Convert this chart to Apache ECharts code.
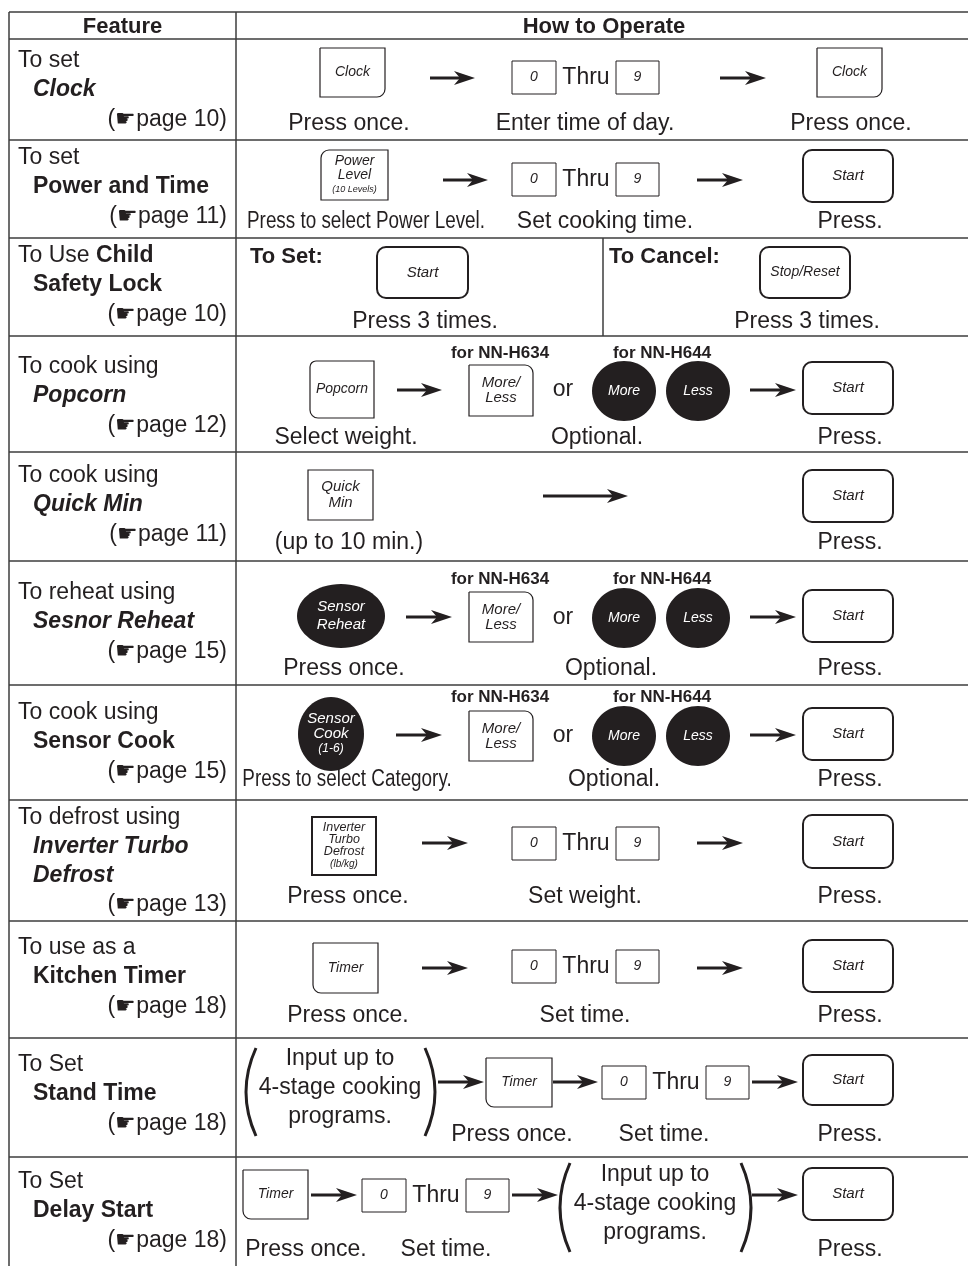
<!DOCTYPE html>
<html><head><meta charset="utf-8">
<script src="https://cdn.jsdelivr.net/npm/echarts@6/dist/echarts.min.js"></script>
<style>html,body{margin:0;padding:0;background:#fff}#c{width:968px;height:1266px}</style>
</head><body><div id="c"></div>
<script>
// ---------------- content ----------------
const headers = ['Feature', 'How to Operate'];
const featureText = [
  ['To set', '{bi|Clock}'],
  ['To set', '{b|Power and Time}'],
  ['To Use {b|Child}', '{b|Safety Lock}'],
  ['To cook using', '{bi|Popcorn}'],
  ['To cook using', '{bi|Quick Min}'],
  ['To reheat using', '{bi|Sesnor Reheat}'],
  ['To cook using', '{b|Sensor Cook}'],
  ['To defrost using', '{bi|Inverter Turbo}', '{bi|Defrost}'],
  ['To use as a', '{b|Kitchen Timer}'],
  ['To Set', '{b|Stand Time}'],
  ['To Set', '{b|Delay Start}']
];
const pageRefs = [10, 11, 10, 12, 11, 15, 15, 13, 18, 18, 18];
const buttonLabels = [
  ['Clock', 'Clock'],
  ['Power\nLevel\n(10 Levels)', 'Start'],
  ['Start', 'Stop/Reset'],
  ['Popcorn', 'More/\nLess', 'More', 'Less', 'Start'],
  ['Quick\nMin', 'Start'],
  ['Sensor\nReheat', 'More/\nLess', 'More', 'Less', 'Start'],
  ['Sensor\nCook\n(1-6)', 'More/\nLess', 'More', 'Less', 'Start'],
  ['Inverter\nTurbo\nDefrost\n(lb/kg)', 'Start'],
  ['Timer', 'Start'],
  ['Timer', 'Start'],
  ['Timer', 'Start']
];
const captions = [
  ['Press once.', 'Enter time of day.', 'Press once.'],
  ['Press to select Power Level.', 'Set cooking time.', 'Press.'],
  ['Press 3 times.', 'Press 3 times.'],
  ['Select weight.', 'Optional.', 'Press.'],
  ['(up to 10 min.)', 'Press.'],
  ['Press once.', 'Optional.', 'Press.'],
  ['Press to select Category.', 'Optional.', 'Press.'],
  ['Press once.', 'Set weight.', 'Press.'],
  ['Press once.', 'Set time.', 'Press.'],
  ['Press once.', 'Set time.', 'Press.'],
  ['Press once.', 'Set time.', 'Press.']
];
const numberKeys = ['0', '9'];
const thruLabel = 'Thru';
const modelLabels = ['for NN-H634', 'for NN-H644'];
const orLabel = 'or';
const lockLabels = ['To Set:', 'To Cancel:'];
const programNote = ['Input up to', '4-stage cooking', 'programs.'];

// ---------------- layout (drawing only) ----------------
const FAMILY = '"Liberation Sans", Arial, Helvetica, sans-serif';
const INK = '#231f20';
const RULE = '#3c3c3c';
const colX = [9, 236];
const rowY = [12, 39, 140, 238, 336, 452, 561, 685, 800, 921, 1038, 1157, 1266];
const featY = [61, 158, 256, 367, 476, 593, 713, 818, 948, 1065, 1182];

const B = (b, box, r, lw, fs, lh, sm) => ({k: 'btn', b, box, r, lw, fs: fs || 14, lh: lh || 15, sm: sm || 10});
const E = (b, cx, cy, rx, ry, fs, lh, sm) => ({k: 'ell', b, cx, cy, rx, ry, fs: fs || 14, lh: lh || 16, sm: sm || 12});
const A = (x0, x1, y) => ({k: 'arrow', x0, x1, y});
const K = (x, y0, y1) => ({k: 'keys', x, y0, y1});
const T = (c, x, y, narrow) => ({k: 'cap', c, x, y, narrow});
const M = (y) => ({k: 'models', y});
const O = (x, y) => ({k: 'or', x, y});
const P = (xl, xr, y0, y1) => ({k: 'paren', xl, xr, y0, y1});
const N = (x, y) => ({k: 'note', x, y});
const L = (i, x, y) => ({k: 'lock', i, x, y});
const V = (x, y0, y1) => ({k: 'vline', x, y0, y1});
const SQ = 0, RS = 9;

const diagrams = [
  [B(0, [320, 48, 385, 97], [0, 0, 8, 0], 1.2), A(430, 475, 78), K(512, 61, 94), A(720, 766, 78),
   B(1, [817, 48, 882, 97], [0, 0, 8, 0], 1.2), T(0, 349, 124), T(1, 585, 124), T(2, 851, 124)],
  [B(0, [321, 150, 388, 200], [8, 0, 0, 0], 1.2, 14, 14, 9), A(443, 488, 180), K(512, 163, 196), A(697, 743, 180),
   B(1, [803, 150, 893, 202], RS, 2, 15), T(0, 366, 222, true), T(1, 605, 222), T(2, 850, 222)],
  [L(0, 250, 257), B(0, [377, 247, 468, 298], RS, 2, 15), L(1, 609, 257), B(1, [760, 247, 850, 298], RS, 2, 14),
   V(603, 238, 336), T(0, 425, 322), T(1, 807, 322)],
  [M(353), B(0, [310, 361, 374, 418], [6, 0, 0, 8], 1.2), A(397, 442, 390), B(1, [469, 365, 533, 416], [0, 8, 0, 0], 1.2, 15, 15),
   O(563, 390), E(2, 624, 391, 32, 30), E(3, 698, 391, 32, 30), A(750, 796, 390), B(4, [803, 362, 893, 414], RS, 2, 15),
   T(0, 346, 438), T(1, 597, 438), T(2, 850, 438)],
  [B(0, [308, 470, 373, 520], SQ, 1.2, 15, 16), A(543, 628, 496), B(1, [803, 470, 893, 522], RS, 2, 15),
   T(0, 349, 543), T(1, 850, 543)],
  [M(579), E(0, 341, 616, 44, 32, 15, 18), A(406, 452, 617), B(1, [469, 592, 533, 642], [0, 8, 0, 0], 1.2, 15, 15),
   O(563, 618), E(2, 624, 618, 32, 30), E(3, 698, 618, 32, 30), A(750, 796, 617), B(4, [803, 590, 893, 642], RS, 2, 15),
   T(0, 344, 669), T(1, 611, 669), T(2, 850, 669)],
  [M(697), E(0, 331, 734, 33, 37, 15, 15, 12), A(396, 442, 735), B(1, [469, 711, 533, 761], [0, 8, 0, 0], 1.2, 15, 15),
   O(563, 736), E(2, 624, 736, 32, 30), E(3, 698, 736, 32, 30), A(750, 796, 735), B(4, [803, 708, 893, 760], RS, 2, 15),
   T(0, 347, 780, true), T(1, 614, 780), T(2, 850, 780)],
  [B(0, [312, 817, 376, 875], SQ, 2, 12.5, 12, 10), A(422, 468, 843), K(512, 827, 860), A(697, 743, 843),
   B(1, [803, 815, 893, 868], RS, 2, 15), T(0, 348, 897), T(1, 585, 897), T(2, 850, 897)],
  [B(0, [313, 943, 378, 993], [0, 0, 0, 8], 1.2), A(422, 468, 968), K(512, 950, 983), A(697, 743, 968),
   B(1, [803, 940, 893, 992], RS, 2, 15), T(0, 348, 1016), T(1, 585, 1016), T(2, 850, 1016)],
  [P(256, 425, 1048, 1136), N(340, 1059), A(438, 484, 1082), B(0, [486, 1058, 552, 1107], [0, 0, 0, 8], 1.2),
   A(553, 598, 1082), K(602, 1066, 1099), A(752, 798, 1082), B(1, [803, 1055, 893, 1105], RS, 2, 15),
   T(0, 512, 1135), T(1, 664, 1135), T(2, 850, 1135)],
  [B(0, [243, 1170, 308, 1219], [0, 0, 0, 8], 1.2), A(311, 357, 1195), K(362, 1179, 1212), A(512, 558, 1195),
   P(570, 741, 1163, 1252), N(655, 1175), A(752, 798, 1195), B(1, [803, 1168, 893, 1220], RS, 2, 15),
   T(0, 306, 1250), T(1, 446, 1250), T(2, 850, 1250)]
];

function font(size, bold, italic) {
  return (italic ? 'italic ' : '') + (bold ? 'bold ' : '') + size + 'px ' + FAMILY;
}
const RICH = {
  b: {font: font(23, true, false), fontWeight: 'bold', fontSize: 23, fontFamily: FAMILY, fill: INK},
  bi: {font: font(23, true, true), fontWeight: 'bold', fontStyle: 'italic', fontSize: 23, fontFamily: FAMILY, fill: INK}
};

function renderItem(params, api) {
  const i = params.dataIndex;
  const C = (x, y) => api.coord([x, y]);
  const ch = [];
  function txt(s, x, y, o) {
    o = o || {};
    const p = C(x, y);
    const al = o.align || 'center';
    const st = {text: s, x: 0, y: 0, font: font(o.size || 23, o.bold, o.italic), fill: o.fill || INK,
      align: al, verticalAlign: 'middle', textAlign: al, textVerticalAlign: 'middle'};
    if (o.rich) st.rich = o.rich;
    return {type: 'text', x: p[0], y: p[1], scaleX: o.sx || 1, style: st, silent: true};
  }
  function line(x0, y0, x1, y1, lw, color) {
    const a = C(x0, y0), b = C(x1, y1);
    return {type: 'line', shape: {x1: a[0], y1: a[1], x2: b[0], y2: b[1]}, style: {stroke: color || RULE, lineWidth: lw || 1.5}};
  }
  function rect(x0, y0, x1, y1, r, lw) {
    const a = C(x0, y0), b = C(x1, y1);
    return {type: 'rect', shape: {x: a[0], y: a[1], width: b[0] - a[0], height: b[1] - a[1], r: r},
      style: {fill: '#fff', stroke: INK, lineWidth: lw}};
  }
  function labelLines(label, cx, cy, fs, lh, sm, color) {
    const lines = label.split('\n');
    const n = lines.length;
    lines.forEach((ln, k) => {
      ch.push(txt(ln, cx, cy + (k - (n - 1) / 2) * lh, {size: ln.charAt(0) === '(' ? sm : fs, italic: true, fill: color}));
    });
  }

  if (i === featureText.length) {
    for (let r = 0; r < rowY.length - 1; r++) ch.push(line(colX[0], rowY[r], 968, rowY[r], 1.5));
    colX.forEach(x => ch.push(line(x, rowY[0], x, rowY[rowY.length - 1], 1.5)));
    ch.push(txt(headers[0], (colX[0] + colX[1]) / 2, (rowY[0] + rowY[1]) / 2 + 1, {size: 22, bold: true}));
    ch.push(txt(headers[1], 604, (rowY[0] + rowY[1]) / 2 + 1, {size: 22, bold: true}));
    return {type: 'group', children: ch};
  }

  const lines = featureText[i];
  lines.forEach((s, k) => {
    ch.push(txt(s, k === 0 ? 18 : 33, featY[i] + k * 28.6, {align: 'left', rich: RICH}));
  });
  ch.push(txt('(\u261Bpage ' + pageRefs[i] + ')', 227, featY[i] + lines.length * 28.6 + 1, {align: 'right'}));

  const labels = buttonLabels[i];
  diagrams[i].forEach(it => {
    switch (it.k) {
      case 'btn': {
        const [x0, y0, x1, y1] = it.box;
        ch.push(rect(x0, y0, x1, y1, it.r, it.lw));
        labelLines(labels[it.b], (x0 + x1) / 2, (y0 + y1) / 2, it.fs, it.lh, it.sm, INK);
        break;
      }
      case 'ell': {
        const c = C(it.cx, it.cy);
        ch.push({type: 'ellipse', shape: {cx: c[0], cy: c[1], rx: it.rx, ry: it.ry}, style: {fill: INK}});
        labelLines(labels[it.b], it.cx, it.cy, it.fs, it.lh, it.sm, '#fff');
        break;
      }
      case 'arrow': {
        ch.push(line(it.x0, it.y, it.x1 - 12, it.y, 3, INK));
        const pts = [[it.x1, it.y], [it.x1 - 21, it.y - 7], [it.x1 - 15, it.y], [it.x1 - 21, it.y + 7]].map(q => C(q[0], q[1]));
        ch.push({type: 'polygon', shape: {points: pts}, style: {fill: INK}});
        break;
      }
      case 'keys': {
        ch.push(rect(it.x, it.y0, it.x + 44, it.y1, 0, 1));
        ch.push(txt(numberKeys[0], it.x + 22, (it.y0 + it.y1) / 2, {size: 14, italic: true}));
        ch.push(txt(thruLabel, it.x + 74, (it.y0 + it.y1) / 2, {size: 23}));
        ch.push(rect(it.x + 104, it.y0, it.x + 147, it.y1, 0, 1));
        ch.push(txt(numberKeys[1], it.x + 125.5, (it.y0 + it.y1) / 2, {size: 14, italic: true}));
        break;
      }
      case 'cap':
        ch.push(txt(captions[i][it.c], it.x, it.y, {size: 23, sx: it.narrow ? 0.82 : 1}));
        break;
      case 'models':
        ch.push(txt(modelLabels[0], 500, it.y, {size: 17, bold: true}));
        ch.push(txt(modelLabels[1], 662, it.y, {size: 17, bold: true}));
        break;
      case 'or':
        ch.push(txt(orLabel, it.x, it.y, {size: 23}));
        break;
      case 'lock':
        ch.push(txt(lockLabels[it.i], it.x, it.y, {size: 22, bold: true, align: 'left'}));
        break;
      case 'vline':
        ch.push(line(it.x, it.y0, it.x, it.y1, 1.5));
        break;
      case 'paren': {
        const ym = (it.y0 + it.y1) / 2;
        [[it.xl, -10], [it.xr, 10]].forEach(([xe, d]) => {
          const a = C(xe, it.y0), b = C(xe, it.y1), cp = C(xe + 2 * d, ym);
          ch.push({type: 'bezierCurve', shape: {x1: a[0], y1: a[1], x2: b[0], y2: b[1], cpx1: cp[0], cpy1: cp[1]},
            style: {stroke: INK, lineWidth: 3, fill: null}});
        });
        break;
      }
      case 'note':
        programNote.forEach((s, k) => ch.push(txt(s, it.x, it.y + k * 29, {size: 23})));
        break;
    }
  });
  return {type: 'group', children: ch};
}

const items = featureText.map((_, k) => [k, k]).concat([[featureText.length, 0]]);
const chart = echarts.init(document.getElementById('c'), null, {renderer: 'canvas', width: 968, height: 1266});
chart.setOption({
  animation: false,
  backgroundColor: '#fff',
  grid: {left: 0, right: 0, top: 0, bottom: 0},
  xAxis: {type: 'value', min: 0, max: 968, show: false},
  yAxis: {type: 'value', min: 0, max: 1266, inverse: true, show: false},
  series: [{type: 'custom', coordinateSystem: 'cartesian2d', data: items, renderItem: renderItem, clip: false, silent: true}]
});
</script>
</body></html>
